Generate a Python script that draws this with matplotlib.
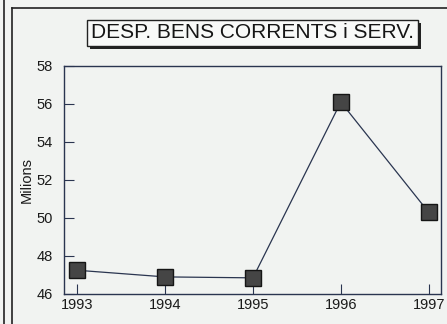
import matplotlib
matplotlib.use('Agg')
import matplotlib.pyplot as plt
from matplotlib.patches import Rectangle
from matplotlib.lines import Line2D

years = [1993, 1994, 1995, 1996, 1997]
milions = [47.25, 46.9, 46.85, 56.1, 50.3]
yticks = [46, 48, 50, 52, 54, 56, 58]
title = 'DESP. BENS CORRENTS i SERV.'

plt.rcParams['font.family'] = ['Liberation Sans', 'DejaVu Sans']

W, H = 447, 324
fig = plt.figure(figsize=(W / 100, H / 100), dpi=100)
bg = '#f1f3f1'
fig.patch.set_facecolor(bg)

# outer panel frames
fig.add_artist(Line2D([3.5 / W, 3.5 / W], [0, 1], color='#222222', lw=1.2))
fig.add_artist(Line2D([11.5 / W, 11.5 / W], [0, 1 - 8 / H], color='#222222', lw=1.2))
fig.add_artist(Line2D([11.5 / W, 1], [1 - 8 / H, 1 - 8 / H], color='#222222', lw=1.2))

# axes: left 64, right 441, top 66, bottom 294 (pixels)
ax = fig.add_axes([64 / W, 1 - 294 / H, (441 - 64) / W, (294 - 66) / H])
ax.set_facecolor(bg)
ax.plot(years, milions, color='#2a3550', lw=0.9, marker='s', markersize=11,
        markerfacecolor='#454545', markeredgecolor='#151515', markeredgewidth=1)

ax.set_xlim(1992.85, 1997.14)
ax.set_ylim(46, 58)
ax.set_xticks(years)
ax.set_yticks(yticks)
ax.tick_params(direction='in', length=7, width=0.8, color='#2a3550',
               labelsize=10.5, labelcolor='#1a1a1a')
ax.tick_params(axis='y', pad=8)
ax.tick_params(axis='x', pad=3)
for s in ax.spines.values():
    s.set_color('#2a3550')
    s.set_linewidth(1)
ax.set_ylabel('Milions', fontsize=10.5, color='#1a1a1a', labelpad=2)

# title box with shadow
bx0, by0, bw, bh = 87, 20, 331, 26
fig.add_artist(Rectangle(((bx0 + 3) / W, 1 - (by0 + bh + 3) / H), bw / W, bh / H,
                         facecolor='#222222', edgecolor='none'))
fig.add_artist(Rectangle((bx0 / W, 1 - (by0 + bh) / H), bw / W, bh / H,
                         facecolor='#f8f9f8', edgecolor='#222222', lw=1))
fig.text((bx0 + bw / 2) / W, 1 - (by0 + bh / 2) / H, title, ha='center', va='center',
         fontsize=15, color='#151515')

fig.savefig('out.png', dpi=100, facecolor=bg)
